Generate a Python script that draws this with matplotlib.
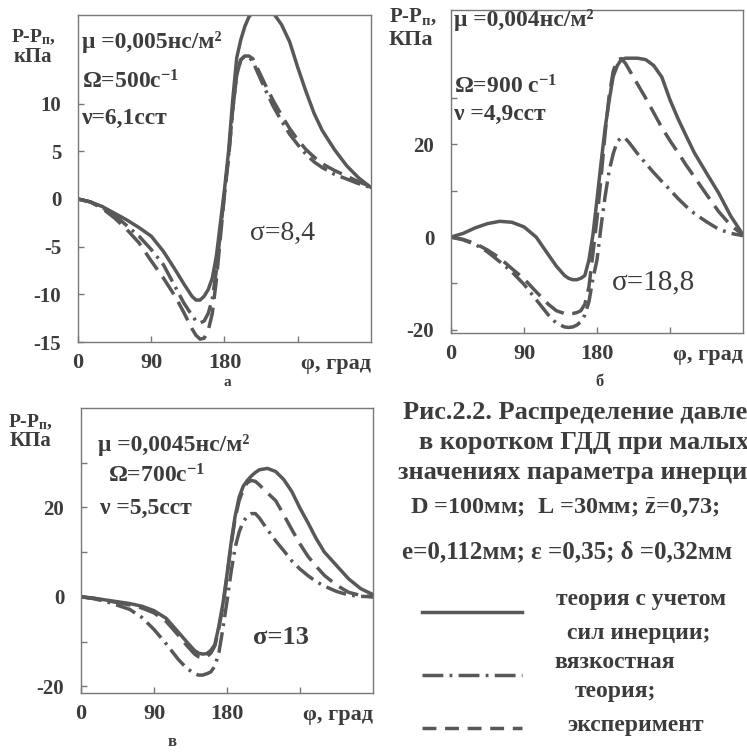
import numpy as np
import matplotlib.pyplot as plt
from matplotlib.lines import Line2D

plt.rcParams['font.family'] = ['Liberation Serif', 'DejaVu Serif']
plt.rcParams['font.weight'] = 'bold'
plt.rcParams['mathtext.fontset'] = 'custom'
plt.rcParams['mathtext.rm'] = 'Liberation Serif:bold'
plt.rcParams['mathtext.it'] = 'Liberation Serif:italic:bold'
plt.rcParams['mathtext.bf'] = 'Liberation Serif:bold'

# угол phi, град (общий для всех кривых)
phi = [0, 15, 30, 45, 60, 75, 90, 105, 120,
       130, 140, 145, 150, 155, 160, 165, 170, 175, 180,
       185, 190, 195, 200, 205, 210, 215, 220,
       230, 240, 250, 260, 270, 280, 290, 300,
       315, 330, 345, 360]

# рис. а  (P-Pп, кПа)
a_inert = [0, -0.3, -0.8, -1.5, -2.2, -3.0, -3.9, -5.5, -7.5,
           -8.9, -10.2, -10.6, -10.6, -10.2, -9.5, -8.3, -6.0, -2.5, 1.0,
           5.0, 10.3, 14.8, 16.7, 18.1, 19.1, 19.6, 19.8,
           19.8, 19.5, 18.3, 16.5, 13.8, 11.3, 9.0, 7.2,
           5.2, 3.5, 2.2, 1.2]
a_visc = [0, -0.3, -0.9, -1.7, -2.8, -3.9, -5.3, -6.9, -9.3,
          -10.9, -12.2, -12.8, -13.0, -12.8, -12.0, -10.5, -7.5, -3.5, 0.7,
          4.5, 9.3, 13.0, 14.6, 15.0, 14.9, 14.4, 13.4,
          11.5, 9.7, 8.2, 6.8, 5.7, 4.7, 3.9, 3.3,
          2.6, 2.1, 1.6, 1.2]
a_exp = [0, -0.3, -1.0, -2.0, -3.2, -4.6, -6.5, -8.3, -10.3,
         -11.9, -13.6, -14.3, -14.7, -14.6, -13.8, -12.0, -8.5, -4.0, 0.5,
         4.3, 9.3, 13.0, 14.6, 15.0, 15.0, 14.7, 13.8,
         12.0, 10.3, 8.8, 7.4, 6.2, 5.2, 4.4, 3.7,
         3.0, 2.4, 1.8, 1.3]

# рис. б
b_inert = [0, 0.8, 2.0, 2.9, 3.4, 3.2, 2.2, 0.0, -3.8,
           -6.3, -8.3, -8.9, -9.2, -9.2, -8.9, -8.3, -5.0, 0.5, 8.1,
           16.0, 23.5, 29.5, 34.7, 37.0, 38.3, 38.6, 38.6,
           38.6, 38.3, 37.0, 34.5, 29.6, 25.5, 21.8, 18.2,
           13.8, 9.5, 4.5, 0.5]
b_visc = [0, -0.6, -1.6, -3.2, -5.3, -7.5, -10.2, -13.5, -16.8,
          -18.6, -19.4, -19.5, -19.4, -19.0, -18.3, -16.8, -14.0, -9.0, -4.9,
          2.3, 8.8, 14.3, 18.0, 20.6, 21.5, 21.3, 20.3,
          18.0, 15.9, 13.9, 12.0, 10.2, 8.3, 6.6, 5.1,
          3.3, 1.7, 0.8, 0.3]
b_exp = [0, -0.5, -1.4, -2.8, -4.5, -6.8, -9.0, -11.8, -14.5,
         -15.9, -16.5, -16.6, -16.5, -16.3, -15.9, -14.5, -10.8, -3.5, 4.0,
         12.8, 22.4, 30.5, 35.8, 38.3, 38.5, 37.5, 36.0,
         33.0, 30.0, 26.8, 23.6, 20.8, 18.2, 15.5, 13.0,
         9.2, 5.5, 2.5, 0.5]

# рис. в
c_inert = [0, -0.3, -0.7, -1.1, -1.5, -2.1, -3.1, -4.8, -7.9,
           -10.0, -12.0, -12.6, -12.8, -12.7, -12.0, -10.7, -6.5, -1.5, 5.0,
           12.0, 18.0, 22.3, 24.7, 26.0, 27.0, 27.8, 28.4,
           28.7, 28.0, 26.2, 23.5, 19.8, 16.5, 13.0, 10.0,
           7.0, 4.0, 1.8, 0.5]
c_visc = [0, -0.4, -1.0, -1.9, -2.8, -4.6, -7.3, -10.5, -14.0,
          -15.9, -17.2, -17.5, -17.5, -17.2, -16.8, -15.5, -12.5, -7.0, -1.0,
          5.5, 11.0, 14.5, 16.8, 18.0, 18.6, 18.6, 17.6,
          15.0, 12.5, 10.3, 8.0, 6.2, 4.7, 3.4, 2.4,
          1.2, 0.4, 0.1, 0.0]
c_exp = [0, -0.3, -0.8, -1.3, -1.8, -2.5, -3.6, -5.5, -8.6,
         -10.8, -12.8, -13.4, -13.6, -13.4, -12.6, -11.0, -7.0, -2.0, 4.5,
         11.5, 17.5, 21.5, 24.0, 25.5, 26.0, 25.8, 25.0,
         23.2, 21.5, 18.3, 15.0, 11.8, 9.0, 6.8, 4.8,
         2.6, 1.0, 0.3, 0.0]

W, H = 747, 753


def fx(px):
    return px / W


def fy(py):
    return 1 - py / H


ink = '#3c3c3c'
lc = '#585858'
LW = 2.5
DASHDOT = (6, 1.8, 0.8, 1.8)
DASH = (6, 2.5)

fig = plt.figure(figsize=(7.47, 7.53), dpi=100)


def panel(box, inert, visc, exp, ylim, yt, ytl):
    l, t, r, b = box
    ax = fig.add_axes([fx(l), fy(b), (r - l) / W, (b - t) / H])
    ax.plot(phi, inert, color=lc, lw=LW, solid_capstyle='round')
    ax.plot(phi, visc, color=lc, lw=LW, dashes=DASHDOT)
    ax.plot(phi, exp, color=lc, lw=LW, dashes=DASH)
    ax.set_xlim(0, 360)
    ax.set_ylim(*ylim)
    ax.set_xticks([0, 90, 180, 270], ['0', '90', '180', ''])
    ax.set_yticks(yt, ytl)
    ax.tick_params(direction='in', length=4, width=1, color='#777777',
                   labelcolor=ink)
    ax.tick_params(axis='y', pad=12, labelsize=15)
    ax.tick_params(axis='x', pad=8, labelsize=16)
    for s in ax.spines.values():
        s.set_color('#777777')
        s.set_linewidth(1.0)
    ax.annotate('φ, град', xy=(0.88, 0), xycoords='axes fraction',
                xytext=(0, -16), textcoords='offset points',
                ha='center', va='center', fontsize=16, color=ink)
    return ax


panel((78, 15, 371, 342), a_inert, a_visc, a_exp, (-15, 19.3),
      [-15, -10, -5, 0, 5, 10], ['-15', '-10', '-5', '0', '5', '10'])
panel((451, 10, 743, 333), b_inert, b_visc, b_exp, (-20.7, 49),
      [-20, -10, 0, 10, 20, 30], ['-20', '', '0', '', '20', ''])
panel((81, 408, 373, 693), c_inert, c_visc, c_exp, (-21.5, 42.2),
      [-20, -10, 0, 10, 20, 30], ['-20', '', '0', '', '20', ''])


def t(x, y, s, size=17, ha='left', **kw):
    fig.text(fx(x), fy(y), s, fontsize=size, ha=ha, va='center', color=ink, **kw)


# рис. а
t(33, 37, r'P-P$_{\mathrm{п}}$,', 14, 'center')
t(33, 57, 'кПа', 15, 'center')
t(82, 42, 'μ =0,005нс/м²')
t(82, 82, r'Ω=500с$^{-1}$')
t(82, 118, 'ν=6,1сст')
t(250, 233, 'σ=8,4', 20, fontweight='normal')
t(227, 383, 'а', 11, 'center')

# рис. б
t(413, 17, r'P-P$_{\mathrm{п}}$,', 15, 'center')
t(411, 40, 'КПа', 16, 'center')
t(454, 20, 'μ =0,004нс/м²')
t(454, 87, r'Ω=900 с$^{-1}$')
t(454, 114, 'ν =4,9сст')
t(612, 282, 'σ=18,8', 21, fontweight='normal')
t(600, 382, 'б', 12, 'center')

# рис. в
t(30, 422, r'P-P$_{\mathrm{п}}$,', 14, 'center')
t(30, 441, 'КПа', 15, 'center')
t(98, 445, 'μ =0,0045нс/м²')
t(108, 476, r'Ω=700с$^{-1}$')
t(100, 508, 'ν =5,5сст')
t(253, 637, 'σ=13', 19)
t(172, 742, 'в', 12, 'center')

# подпись (в оригинале обрезана правым краем)
t(403, 413, 'Рис.2.2. Распределение давления', 19)
t(419, 443, 'в коротком ГДД при малых', 19)
t(398, 472, 'значениях параметра инерции', 19)
t(410, 508, r'D =100мм;  L =30мм; $\bar{\mathrm{z}}$=0,73;', 17.5)
t(402, 552, 'е=0,112мм; ε =0,35; δ =0,32мм', 18)

# условные обозначения
for yy, st in [(612, {}), (675, {'dashes': DASHDOT}), (728, {'dashes': (4, 2.5)})]:
    fig.add_artist(Line2D([fx(422), fx(522)], [fy(yy), fy(yy)],
                          transform=fig.transFigure, color=lc, lw=LW, **st))
t(641, 600, 'теория с учетом', 17, 'center')
t(639, 633, 'сил инерции;', 17, 'center')
t(615, 663, 'вязкостная', 17, 'center')
t(615, 692, 'теория;', 17, 'center')
t(636, 725, 'эксперимент', 17, 'center')

fig.savefig('out.png', dpi=100)
